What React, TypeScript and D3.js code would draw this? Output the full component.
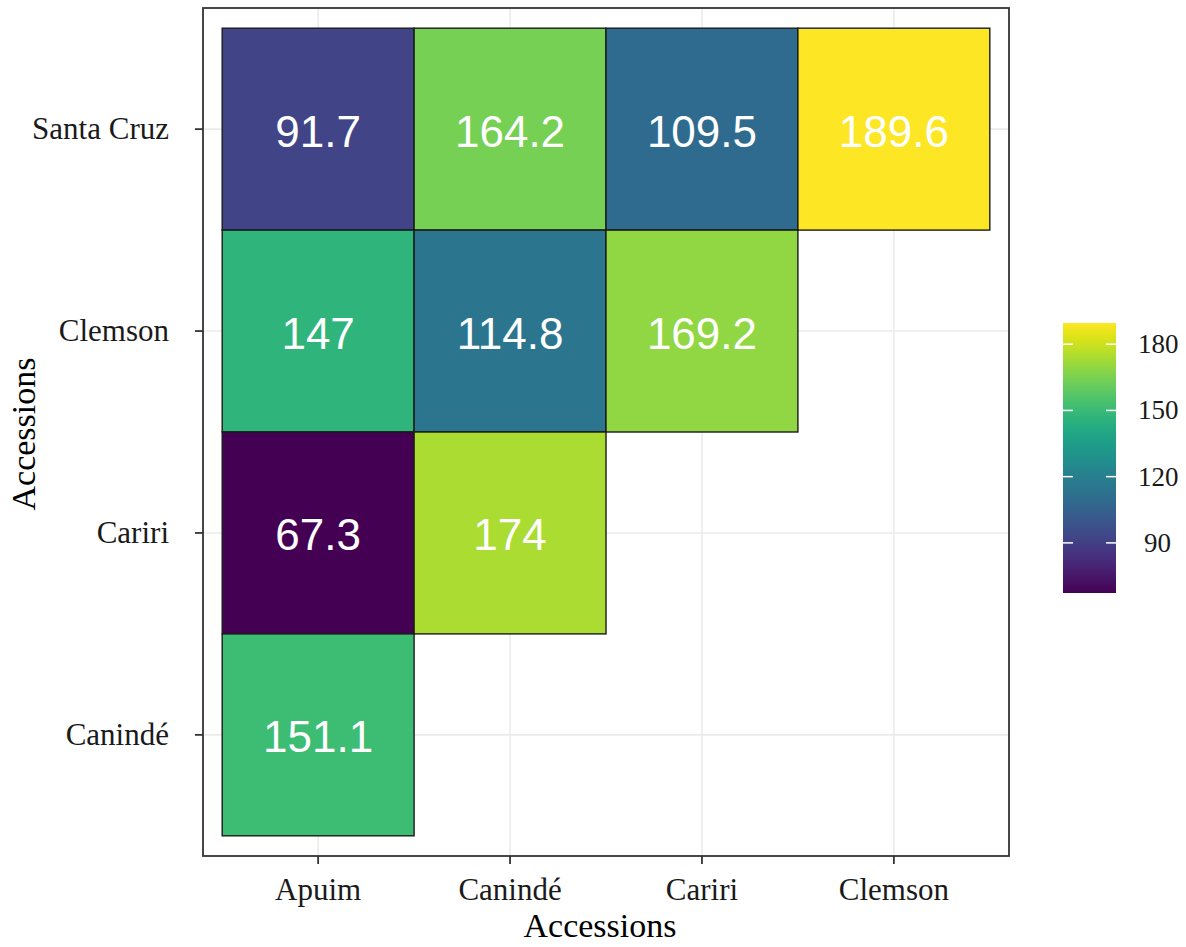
import React from "react";
import * as d3 from "d3";

const xCategories = ["Apuim", "Canindé", "Cariri", "Clemson"];
const yCategories = ["Santa Cruz", "Clemson", "Cariri", "Canindé"]; // top to bottom
const rowSantaCruz = [91.7, 164.2, 109.5, 189.6];
const rowClemson = [147, 114.8, 169.2];
const rowCariri = [67.3, 174];
const rowCaninde = [151.1];
const legendTicks = [90, 120, 150, 180];
const xTitle = "Accessions";
const yTitle = "Accessions";

const rows = [rowSantaCruz, rowClemson, rowCariri, rowCaninde];

export default function App() {
  const W = 1186, H = 947;
  const panel = { left: 203, right: 1009, top: 8, bottom: 856 };
  const x = d3.scaleBand<string>().domain(xCategories).range([panel.left, panel.right]).paddingInner(0).paddingOuter(0.1);
  const y = d3.scaleBand<string>().domain(yCategories).range([panel.top, panel.bottom]).paddingInner(0).paddingOuter(0.1);

  const cells: { xc: string; yc: string; v: number }[] = [];
  rows.forEach((r, i) => r.forEach((v, j) => cells.push({ xc: xCategories[j], yc: yCategories[i], v })));
  const allVals = cells.map((c) => c.v);
  const vmin = d3.min(allVals)!, vmax = d3.max(allVals)!;
  const color = d3.scaleSequential(d3.interpolateViridis).domain([vmin, vmax]);

  const bar = { x: 1063, w: 53, top: 323, bottom: 593 };
  const ly = d3.scaleLinear().domain([vmin, vmax]).range([bar.bottom, bar.top]);
  const stops = d3.range(0, 1.0001, 0.05);

  const serif = "'Liberation Serif', 'Times New Roman', serif";
  const sans = "'Liberation Sans', Arial, sans-serif";

  return (
    <svg width={W} height={H} style={{ position: "absolute", left: 0, top: 0, background: "#fff" }}>
      <defs>
        <linearGradient id="vgrad" x1="0" y1="1" x2="0" y2="0">
          {stops.map((t) => (
            <stop key={t} offset={t} stopColor={d3.interpolateViridis(t)} />
          ))}
        </linearGradient>
      </defs>
      <rect x={0} y={0} width={W} height={H} fill="#fff" />
      {/* grid */}
      {xCategories.map((c) => (
        <line key={"gx" + c} x1={x(c)! + x.bandwidth() / 2} x2={x(c)! + x.bandwidth() / 2} y1={panel.top} y2={panel.bottom} stroke="#ebebeb" strokeWidth={1.6} />
      ))}
      {yCategories.map((c) => (
        <line key={"gy" + c} y1={y(c)! + y.bandwidth() / 2} y2={y(c)! + y.bandwidth() / 2} x1={panel.left} x2={panel.right} stroke="#ebebeb" strokeWidth={1.6} />
      ))}
      {/* tiles */}
      {cells.map((c) => (
        <rect key={"t" + c.xc + c.yc} x={x(c.xc)} y={y(c.yc)} width={x.bandwidth()} height={y.bandwidth()} fill={color(c.v)} stroke="#1a1a1a" strokeWidth={1.4} />
      ))}
      {cells.map((c) => (
        <text key={"l" + c.xc + c.yc} x={x(c.xc)! + x.bandwidth() / 2} y={y(c.yc)! + y.bandwidth() / 2 + 2} textAnchor="middle" dominantBaseline="central" fill="#fff" fontFamily={sans} fontSize={44}>
          {String(c.v)}
        </text>
      ))}
      {/* panel border */}
      <rect x={panel.left} y={panel.top} width={panel.right - panel.left} height={panel.bottom - panel.top} fill="none" stroke="#333" strokeWidth={1.8} />
      {/* x axis ticks & labels */}
      {xCategories.map((c) => {
        const cx = x(c)! + x.bandwidth() / 2;
        return (
          <g key={"xa" + c}>
            <line x1={cx} x2={cx} y1={panel.bottom} y2={panel.bottom + 8} stroke="#333" strokeWidth={1.8} />
            <text x={cx} y={900} textAnchor="middle" fontFamily={serif} fontSize={31} fill="#1a1a1a">{c}</text>
          </g>
        );
      })}
      {yCategories.map((c) => {
        const cy = y(c)! + y.bandwidth() / 2;
        return (
          <g key={"ya" + c}>
            <line x1={panel.left - 8} x2={panel.left} y1={cy} y2={cy} stroke="#333" strokeWidth={1.8} />
            <text x={169} y={cy + 10} textAnchor="end" fontFamily={serif} fontSize={31} fill="#1a1a1a">{c}</text>
          </g>
        );
      })}
      <text x={600} y={937} textAnchor="middle" fontFamily={serif} fontSize={34} fill="#000">{xTitle}</text>
      <text transform={`translate(35, 434) rotate(-90)`} textAnchor="middle" fontFamily={serif} fontSize={34} fill="#000">{yTitle}</text>
      {/* legend */}
      <rect x={bar.x} y={bar.top} width={bar.w} height={bar.bottom - bar.top} fill="url(#vgrad)" />
      {legendTicks.map((t) => (
        <g key={"lt" + t}>
          <line x1={bar.x} x2={bar.x + 10} y1={ly(t)} y2={ly(t)} stroke="#fff" strokeWidth={1.5} />
          <line x1={bar.x + bar.w - 10} x2={bar.x + bar.w} y1={ly(t)} y2={ly(t)} stroke="#fff" strokeWidth={1.5} />
          <text x={bar.x + bar.w + 22} y={ly(t) + 9} fontFamily={serif} fontSize={27} fill="#1a1a1a" dx={t < 100 ? 6 : 0}>{t}</text>
        </g>
      ))}
    </svg>
  );
}
